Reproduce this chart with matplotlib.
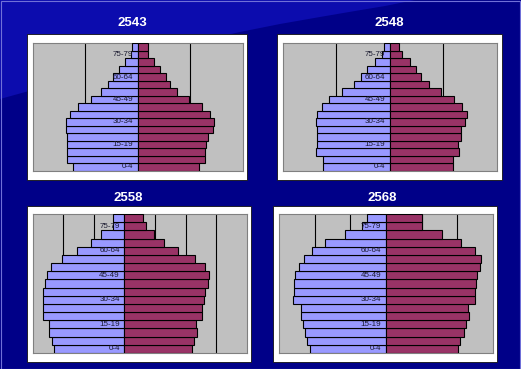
import matplotlib
matplotlib.use('Agg')
import matplotlib.pyplot as plt
from matplotlib.patches import Rectangle, Polygon
from matplotlib.transforms import offset_copy
from matplotlib import font_manager

# population by age group, thousands (0-4 ... 80+)
ages = ['0-4', '5-9', '10-14', '15-19', '20-24', '25-29', '30-34', '35-39',
        '40-44', '45-49', '50-54', '55-59', '60-64', '65-69', '70-74', '75-79', '80+']
shown_ages = ['0-4', '15-19', '30-34', '45-49', '60-64', '75-79']

years = ['2543', '2548', '2558', '2568']

male_2543 = [2456, 2684, 2684, 2684, 2709, 2722, 2722, 2570, 2266, 1797, 1392, 1139, 937, 709, 468, 240, 203]
female_2543 = [2329, 2545, 2582, 2620, 2696, 2861, 2899, 2760, 2443, 1949, 1494, 1215, 1076, 835, 633, 380, 380]

male_2548 = [2499, 2511, 2739, 2726, 2726, 2726, 2739, 2713, 2537, 2272, 1779, 1325, 1073, 833, 568, 303, 227]
female_2548 = [2373, 2373, 2574, 2562, 2650, 2675, 2827, 2903, 2713, 2398, 1931, 1464, 1161, 972, 745, 454, 366]

male_2558 = [2319, 2385, 2473, 2462, 2659, 2659, 2670, 2670, 2604, 2538, 2396, 2055, 1549, 1099, 758, 374, 374]
female_2558 = [2198, 2264, 2363, 2330, 2549, 2549, 2593, 2626, 2725, 2758, 2626, 2297, 1769, 1286, 956, 692, 615]

male_2568 = [2150, 2224, 2281, 2337, 2393, 2393, 2626, 2589, 2589, 2561, 2440, 2309, 2084, 1720, 1159, 682, 533]
female_2568 = [2019, 2094, 2187, 2262, 2346, 2318, 2514, 2514, 2542, 2570, 2645, 2682, 2496, 2122, 1561, 1000, 1000]

males = [male_2543, male_2548, male_2558, male_2568]
females = [female_2543, female_2548, female_2558, female_2568]

# axis settings per panel (thousands): x range and gridline step
x_ranges = [(-4000, 4000), (-4000, 4000), (-3000, 4000), (-3000, 3000)]
grid_steps = [2000, 2000, 1000, 1000]

W, H = 521, 369
# gray plot areas and white frames, in pixels (left, top, right, bottom)
plot_boxes = [(32.7, 43.3, 242.7, 170.7), (282.7, 43.3, 496.7, 170.7),
              (32.7, 214, 246.7, 353), (279.3, 214, 492.7, 353)]
frame_boxes = [(26.7, 34.3, 247.3, 180), (276.7, 34.3, 502.3, 180),
               (26.7, 205.7, 250.7, 361.7), (273.3, 205.7, 497.3, 361.7)]
title_pos = [(132, 23), (389, 23), (128, 198), (382, 198)]

male_color = '#9999FF'
female_color = '#993366'

names = {f.name for f in font_manager.fontManager.ttflist}
label_font = 'Liberation Sans Narrow' if 'Liberation Sans Narrow' in names else 'Liberation Sans'
label_size = 6.8 if label_font == 'Liberation Sans Narrow' else 5.8

fig = plt.figure(figsize=(W / 100, H / 100), dpi=100)


def fx(x):
    return x / W


def fy(y):
    return 1 - y / H


# background: navy with a lighter sweep in the top-left corner
fig.patches.append(Rectangle((0, 0), 1, 1, transform=fig.transFigure,
                             facecolor='#000088', edgecolor='none', zorder=-10))
curve = [(0, 0), (415, 0), (405, 2), (385, 6), (355, 11), (320, 17), (280, 24),
         (240, 32), (200, 41), (160, 51), (120, 63), (80, 77), (40, 88), (0, 99)]
fig.patches.append(Polygon([(fx(x), fy(y)) for x, y in curve], closed=True,
                           transform=fig.transFigure, facecolor='#0c0cae',
                           edgecolor='none', zorder=-9))
fig.patches.append(Rectangle((0.001, 0.001), 0.997, 0.997, transform=fig.transFigure,
                             facecolor='none', edgecolor='#7070d8', lw=0.8, zorder=-8))

for i in range(4):
    l, t, r, b = frame_boxes[i]
    fig.patches.append(Rectangle((fx(l), fy(b)), fx(r - l), (b - t) / H,
                                 transform=fig.transFigure, facecolor='white',
                                 edgecolor='#101010', lw=0.6, zorder=-5))

    l, t, r, b = plot_boxes[i]
    ax = fig.add_axes([fx(l), fy(b), fx(r - l), (b - t) / H])
    ax.set_facecolor('#C0C0C0')
    for s in ax.spines.values():
        s.set_color('#808080')
        s.set_linewidth(0.8)

    y = range(len(ages))
    ax.barh(y, [-v for v in males[i]], height=1.0, color=male_color,
            edgecolor='black', linewidth=0.8, zorder=3)
    ax.barh(y, females[i], height=1.0, color=female_color,
            edgecolor='black', linewidth=0.8, zorder=3)

    lo, hi = x_ranges[i]
    step = grid_steps[i]
    g = lo + step
    while g < hi:
        if g != 0:
            ax.axvline(g, color='black', lw=0.8, zorder=1)
        g += step
    ax.set_xlim(lo, hi)
    ax.set_ylim(-0.5, len(ages) - 0.5)
    ax.set_xticks([])
    ax.set_yticks([])

    tr = offset_copy(ax.transData, fig=fig, x=-4.5, y=0, units='dots')
    for a in shown_ages:
        ax.text(0, ages.index(a), a, transform=tr, ha='right', va='center',
                fontsize=label_size, family=label_font, color='#1a1a30', zorder=5)

    tx, ty = title_pos[i]
    fig.text(fx(tx), fy(ty), years[i], ha='center', va='center', color='white',
             fontsize=9.5, family='Liberation Sans', fontweight='bold')

fig.savefig('out.png', dpi=100)
